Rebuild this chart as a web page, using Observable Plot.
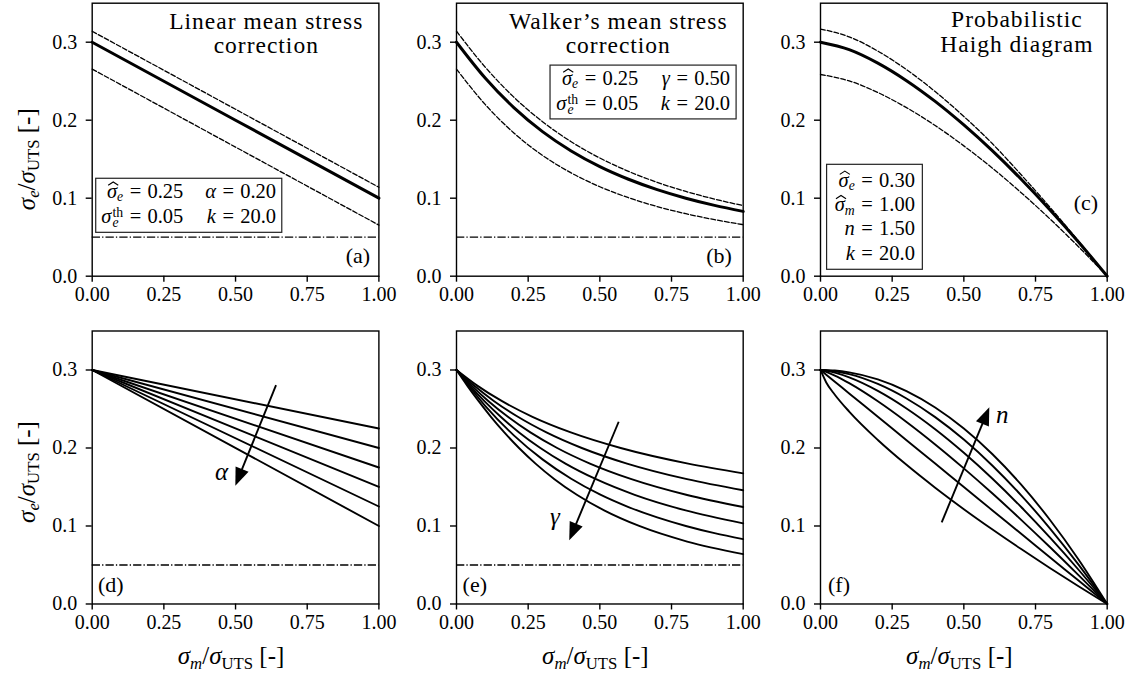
<!DOCTYPE html>
<html><head><meta charset="utf-8">
<script src="https://cdn.jsdelivr.net/npm/d3@7"></script>
<script src="https://cdn.jsdelivr.net/npm/@observablehq/plot@0.6"></script>
<style>
html,body{margin:0;padding:0;background:#fff;}
#fig{position:relative;width:1133px;height:680px;overflow:hidden;background:#fff;}
#fig svg{position:absolute;font-family:"Liberation Serif","DejaVu Serif",serif !important;}
#fig [aria-label="x-axis tick"], #fig [aria-label="y-axis tick"]{stroke-width:1.4px;}
#fig [aria-label="x-axis tick label"], #fig [aria-label="y-axis tick label"]{font-size:20px;font-family:"Liberation Serif","DejaVu Serif",serif;}
</style></head><body><div id="fig"></div>
<script>
// ---------------- data ----------------
const mTicks = [0, 0.25, 0.5, 0.75, 1];
const yTicks = [0, 0.1, 0.2, 0.3];
const threshold = 0.05;
const mGrid = [0, 0.1, 0.2, 0.3, 0.4, 0.5, 0.6, 0.7, 0.8, 0.9, 1];

// (a) linear mean stress correction
const aM = [0, 0.5, 1];
const aMean = [0.300, 0.200, 0.100];
const aUpper = [0.314, 0.214, 0.114];
const aLower = [0.2655, 0.1655, 0.0655];

// (b) Walker's mean stress correction (on mGrid)
const bMean = [0.300, 0.2541, 0.2162, 0.1854, 0.1606, 0.1405, 0.1243, 0.1110, 0.1000, 0.0908, 0.0831];
const bUpper = [0.3141, 0.2681, 0.2296, 0.1981, 0.1724, 0.1515, 0.1344, 0.1203, 0.1086, 0.0988, 0.0905];
const bLower = [0.2655, 0.2202, 0.1837, 0.1549, 0.1324, 0.1147, 0.1006, 0.0893, 0.0801, 0.0725, 0.0661];

// (c) probabilistic Haigh diagram (on mGrid)
const cMean = [0.300, 0.2905, 0.2732, 0.2507, 0.2241, 0.1939, 0.1606, 0.1243, 0.0853, 0.0439, 0];
const cUpper = [0.3169, 0.3069, 0.2886, 0.2648, 0.2367, 0.2048, 0.1697, 0.1300, 0.0885, 0.0450, 0];
const cLower = [0.2586, 0.2504, 0.2355, 0.2161, 0.1932, 0.1671, 0.1384, 0.1071, 0.0735, 0.0378, 0];

// (d) family of linear lines (alpha varies)
const dM = [0, 1];
const dStart = 0.3;
const dEnd = [0.225, 0.200, 0.175, 0.150, 0.125, 0.100];

// (e) family of Walker curves (gamma varies)
const eM = [
  [0, 0.0724, 0.1589, 0.2649, 0.3987, 0.5727, 0.8080, 1.0],
  [0, 0.0610, 0.1313, 0.2141, 0.3137, 0.4370, 0.5947, 0.8041, 1.0],
  [0, 0.0527, 0.1118, 0.1793, 0.2577, 0.3512, 0.4655, 0.6103, 0.8011, 1.0],
  [0, 0.0464, 0.0973, 0.1541, 0.2183, 0.2925, 0.3801, 0.4868, 0.6215, 0.7994, 1.0],
  [0, 0.1, 0.2, 0.3, 0.4, 0.5, 0.6, 0.7, 0.8, 0.9, 1.0],
  [0, 0.0374, 0.0773, 0.1201, 0.1667, 0.2180, 0.2757, 0.3417, 0.4197, 0.5149, 0.6371, 0.8047, 1.0]
];
const eA = [
  [0.30, 0.28, 0.26, 0.24, 0.22, 0.20, 0.18, 0.1675],
  [0.30, 0.28, 0.26, 0.24, 0.22, 0.20, 0.18, 0.16, 0.1458],
  [0.30, 0.28, 0.26, 0.24, 0.22, 0.20, 0.18, 0.16, 0.14, 0.1243],
  [0.30, 0.28, 0.26, 0.24, 0.22, 0.20, 0.18, 0.16, 0.14, 0.12, 0.1034],
  [0.300, 0.2541, 0.2162, 0.1854, 0.1606, 0.1405, 0.1243, 0.1110, 0.1000, 0.0908, 0.0831],
  [0.30, 0.28, 0.26, 0.24, 0.22, 0.20, 0.18, 0.16, 0.14, 0.12, 0.10, 0.08, 0.0639]
];

// (f) family of Haigh curves (n varies)
const fM = [0, 0.02, 0.05, 0.1, 0.2, 0.3, 0.4, 0.5, 0.6, 0.7, 0.8, 0.9, 1];
const fA = [
  [0.3, 0.2840, 0.2683, 0.2467, 0.2103, 0.1784, 0.1491, 0.1216, 0.0955, 0.0704, 0.0462, 0.0228, 0],
  [0.3, 0.2940, 0.2850, 0.2700, 0.2400, 0.2100, 0.1800, 0.1500, 0.1200, 0.0900, 0.0600, 0.0300, 0],
  [0.3, 0.2977, 0.2929, 0.2831, 0.2599, 0.2334, 0.2046, 0.1739, 0.1416, 0.1079, 0.0730, 0.0370, 0],
  [0.3, 0.2992, 0.2966, 0.2905, 0.2732, 0.2507, 0.2241, 0.1939, 0.1606, 0.1243, 0.0853, 0.0439, 0],
  [0.3, 0.2997, 0.2984, 0.2947, 0.2821, 0.2635, 0.2396, 0.2108, 0.1773, 0.1393, 0.0970, 0.0505, 0],
  [0.3, 0.2999, 0.2993, 0.2970, 0.2880, 0.2730, 0.2520, 0.2250, 0.1920, 0.1530, 0.1080, 0.0570, 0]
];

// annotation texts
const titles = [["Linear mean stress", "correction"], ["Walker\u2019s mean stress", "correction"], ["Probabilistic", "Haigh diagram"]];
const panelTags = ["(a)", "(b)", "(c)", "(d)", "(e)", "(f)"];
const legendA = ["0.25", "0.20", "0.05", "20.0"];
const legendB = ["0.25", "0.50", "0.05", "20.0"];
const legendC = ["0.30", "1.00", "1.50", "20.0"];

// ---------------- helpers ----------------
const FONT = "Liberation Serif";
const FONTS = '"Liberation Serif", "DejaVu Serif", serif';
const DASH = "4.8,2.1";
const DASHDOT = "8.3,2.1,1.3,2.1";
const LEG = 20.5;
const rows = (xs, ys) => xs.map((x, i) => ({x, y: ys[i]}));
const ctx = document.createElement("canvas").getContext("2d");
function measure(t, size, it) {
  ctx.font = `${it ? "italic " : ""}${size}px "${FONT}"`;
  return ctx.measureText(t).width;
}
function txt(g, x, y, t, size, opts = {}) {
  const lead = t.match(/^ */)[0];
  const dx = lead ? measure(lead, size, opts.it) : 0;
  return g.append("text").attr("x", x + dx).attr("y", y)
    .attr("font-family", FONTS).attr("font-size", size)
    .attr("font-style", opts.it ? "italic" : "normal")
    .attr("text-anchor", opts.anchor || "start")
    .attr("fill", "black").attr("stroke", "none")
    .text(t.slice(lead.length));
}
// math-like text: parts laid out left to right (sub/superscripts, hats, spacing)
function rich(g, x, y, parts, size, anchor = "start", rotate = 0) {
  const root = g.append("g").attr("transform", `translate(${x},${y})${rotate ? ` rotate(${rotate})` : ""}`);
  let cx = 0, held = 0;
  const items = [];
  for (const p of parts) {
    const small = p.sub || p.sup;
    const sz = small ? size * 0.67 : size;
    const w = measure(p.t, sz, p.it);
    cx += (p.pre || 0) * size;
    items.push({...p, sz, w, x: cx, dy: p.sub ? size * 0.17 : p.sup ? -size * 0.3 : 0});
    if (p.hold) held = w; else { cx += Math.max(w, held) + (p.post || 0) * size; held = 0; }
  }
  const off = anchor === "middle" ? -cx / 2 : anchor === "end" ? -cx : 0;
  for (let i = 0; i < items.length; i++) {
    const it = items[i];
    if (it.hold && items[i + 1]) {
      const nx = items[i + 1];
      const t = root.append("text").attr("font-family", FONTS).attr("fill", "black").attr("text-anchor", "start");
      t.append("tspan").attr("x", it.x + off).attr("y", it.dy).attr("font-size", it.sz).attr("fill", "black")
        .attr("font-style", it.it ? "italic" : "normal").text(it.t);
      t.append("tspan").attr("x", nx.x + off).attr("y", nx.dy).attr("font-size", nx.sz).attr("fill", "black")
        .attr("font-style", nx.it ? "italic" : "normal").text(nx.t);
      i++;
      continue;
    }
    txt(root, it.x + off, it.dy, it.t, it.sz, {it: it.it});
    if (it.hat) {
      const x0 = it.x + off + it.w * 0.12, x1 = it.x + off + it.w * 1.12, xm = (x0 + x1) / 2;
      root.append("path")
        .attr("d", `M${x0},${-size * 0.6}L${xm},${-size * 0.76}L${x1},${-size * 0.6}`)
        .attr("fill", "none").attr("stroke", "black").attr("stroke-width", 1.1);
    }
  }
  return root;
}
const sig = (o = {}) => ({t: "\u03C3", it: true, ...o});
const eq = (v) => [{t: "=", pre: 0.32, post: 0.3}, {t: v}];
const yLabelParts = [sig(), {t: "e", it: true, sub: true}, {t: "/"}, sig(), {t: "UTS", sub: true}, {t: " [-]"}];
const xLabelParts = [sig(), {t: "m", it: true, sub: true}, {t: "/"}, sig(), {t: "UTS", sub: true}, {t: " [-]"}];
const hatSigE = [sig({hat: true}), {t: "e", it: true, sub: true}];
const hatSigM = [sig({hat: true}), {t: "m", it: true, sub: true}];
const sigTh = [sig(), {t: "e", it: true, sub: true, hold: true, pre: 0.06}, {t: "th", sup: true}];

function annot(draw) {
  return (index, scales, values, dims) => {
    const g = d3.create("svg:g");
    draw(g, scales.x, scales.y, dims);
    return g.node();
  };
}
function arrow(g, x, y, from, to) {
  const X1 = x(from[0]), Y1 = y(from[1]), X2 = x(to[0]), Y2 = y(to[1]);
  const dx = X2 - X1, dy = Y2 - Y1, L = Math.hypot(dx, dy), ux = dx / L, uy = dy / L;
  const hl = 18, hw = 7;
  const bx = X2 - ux * hl, by = Y2 - uy * hl;
  g.append("line").attr("x1", X1).attr("y1", Y1).attr("x2", bx + ux * 2).attr("y2", by + uy * 2)
    .attr("stroke", "black").attr("stroke-width", 1.9);
  g.append("path").attr("d", `M${X2},${Y2}L${bx - uy * hw},${by + ux * hw}L${bx + uy * hw},${by - ux * hw}Z`)
    .attr("fill", "black").attr("stroke", "none");
}
function box(g, x0, y0, x1, y1) {
  g.append("rect").attr("x", Math.min(x0, x1)).attr("y", Math.min(y0, y1))
    .attr("width", Math.abs(x1 - x0)).attr("height", Math.abs(y1 - y0))
    .attr("fill", "white").attr("stroke", "#222").attr("stroke-width", 1.2);
}
function title(g, x, y0, y1, lines) {
  txt(g, x, y0, lines[0], 23.5, {anchor: "middle"}).style("letter-spacing", "1px");
  txt(g, x, y1, lines[1], 23.5, {anchor: "middle"}).style("letter-spacing", "1px");
}

// ---------------- layout ----------------
const fig = document.getElementById("fig");
const colLeft = [91.7, 456, 820], colML = [91.7, 76, 60], frameW = 286.7, mR = 26;
const rowSvgTop = [0, 320], rowMT = [2.7, 10.5], frameH = 273, rowMB = [44, 76.5];

function panel(col, row, marks) {
  const ml = colML[col], mt = rowMT[row], mb = rowMB[row];
  const svg = Plot.plot({
    width: ml + frameW + mR, height: mt + frameH + mb,
    marginLeft: ml, marginRight: mR, marginTop: mt, marginBottom: mb,
    style: {fontFamily: FONTS, fontSize: "20px", color: "black", background: "transparent", overflow: "visible"},
    x: {domain: [0, 1], ticks: mTicks, tickFormat: d3.format(".2f"), tickSize: 6, tickPadding: 5, label: null},
    y: {domain: [0, 0.35], ticks: yTicks, tickFormat: d3.format(".1f"), tickSize: 6, tickPadding: 9, label: null},
    marks: [...marks, Plot.frame({stroke: "black", strokeWidth: 1.4})]
  });
  svg.style.left = (colLeft[col] - ml) + "px";
  svg.style.top = rowSvgTop[row] + "px";
  fig.append(svg);
}
const thin = {x: "x", y: "y", stroke: "black", strokeWidth: 1.3, strokeDasharray: DASH};
const thick = {x: "x", y: "y", stroke: "black", strokeWidth: 3};
const fam = {x: "x", y: "y", stroke: "black", strokeWidth: 1.9};
const rule = Plot.ruleY([threshold], {stroke: "black", strokeWidth: 1.3, strokeDasharray: DASHDOT});
const yLabel = (offset) => annot((g, x, y) => rich(g, x(0) - 56.7, y(0.175) + offset, yLabelParts, 25, "middle", -90));
const xLabel = annot((g, x, y) => rich(g, x(0.5) - 4, y(0) + 61, xLabelParts, 25, "middle"));

// (a)
panel(0, 0, [
  rule,
  Plot.line(rows(aM, aUpper), thin),
  Plot.line(rows(aM, aLower), thin),
  Plot.line(rows(aM, aMean), thick),
  annot((g, x, y) => {
    title(g, x(0.609), y(0.316), y(0.285), titles[0]);
    box(g, x(0.014), y(0.1249), x(0.663), y(0.0556));
    rich(g, x(0.3195), y(0.1002), [...hatSigE, ...eq(legendA[0])], LEG, "end");
    rich(g, x(0.643), y(0.1002), [{t: "\u03B1", it: true}, ...eq(legendA[1])], LEG, "end");
    rich(g, x(0.3195), y(0.0675), [...sigTh, ...eq(legendA[2])], LEG, "end");
    rich(g, x(0.643), y(0.0675), [{t: "k", it: true}, ...eq(legendA[3])], LEG, "end");
    txt(g, x(0.971), y(0.016), panelTags[0], 22, {anchor: "end"});
  }),
  yLabel(20)
]);

// (b)
panel(1, 0, [
  rule,
  Plot.line(rows(mGrid, bUpper), {...thin, curve: "monotone-x"}),
  Plot.line(rows(mGrid, bLower), {...thin, curve: "monotone-x"}),
  Plot.line(rows(mGrid, bMean), {...thick, curve: "monotone-x"}),
  annot((g, x, y) => {
    title(g, x(0.566), y(0.316), y(0.285), titles[1]);
    box(g, x(0.328), y(0.270), x(0.977), y(0.201));
    rich(g, x(0.636), y(0.2451), [...hatSigE, ...eq(legendB[0])], LEG, "end");
    rich(g, x(0.956), y(0.2451), [{t: "\u03B3", it: true}, ...eq(legendB[1])], LEG, "end");
    rich(g, x(0.636), y(0.2119), [...sigTh, ...eq(legendB[2])], LEG, "end");
    rich(g, x(0.956), y(0.2119), [{t: "k", it: true}, ...eq(legendB[3])], LEG, "end");
    txt(g, x(0.962), y(0.016), panelTags[1], 22, {anchor: "end"});
  })
]);

// (c)
panel(2, 0, [
  Plot.line(rows(mGrid, cUpper), {...thin, curve: "monotone-x"}),
  Plot.line(rows(mGrid, cLower), {...thin, curve: "monotone-x"}),
  Plot.line(rows(mGrid, cMean), {...thick, curve: "monotone-x"}),
  annot((g, x, y) => {
    title(g, x(0.687), y(0.319), y(0.287), titles[2]);
    box(g, x(0.023), y(0.1428), x(0.357), y(0.0082));
    rich(g, x(0.331), y(0.1141), [...hatSigE, ...eq(legendC[0])], LEG, "end");
    rich(g, x(0.331), y(0.0829), [...hatSigM, ...eq(legendC[1])], LEG, "end");
    rich(g, x(0.331), y(0.0517), [{t: "n", it: true}, ...eq(legendC[2])], LEG, "end");
    rich(g, x(0.331), y(0.0204), [{t: "k", it: true}, ...eq(legendC[3])], LEG, "end");
    txt(g, x(0.970), y(0.0842), panelTags[2], 22, {anchor: "end"});
  })
]);

// (d)
panel(0, 1, [
  rule,
  ...dEnd.map(e => Plot.line(rows(dM, [dStart, e]), fam)),
  annot((g, x, y) => {
    arrow(g, x, y, [0.643, 0.280], [0.501, 0.151]);
    rich(g, x(0.453), y(0.158), [{t: "\u03B1", it: true}], 25, "middle");
    txt(g, x(0.022), y(0.0153), panelTags[3], 22);
  }),
  yLabel(5),
  xLabel
]);

// (e)
panel(1, 1, [
  rule,
  ...eM.map((ms, i) => Plot.line(rows(ms, eA[i]), {...fam, curve: "monotone-x"})),
  annot((g, x, y) => {
    arrow(g, x, y, [0.5675, 0.233], [0.395, 0.081]);
    rich(g, x(0.345), y(0.100), [{t: "\u03B3", it: true}], 25, "middle");
    txt(g, x(0.023), y(0.0153), panelTags[4], 22);
  }),
  xLabel
]);

// (f)
panel(2, 1, [
  ...fA.map(a => Plot.line(rows(fM, a), {...fam, curve: "monotone-x"})),
  annot((g, x, y) => {
    arrow(g, x, y, [0.4245, 0.104], [0.5906, 0.2517]);
    rich(g, x(0.636), y(0.232), [{t: "n", it: true}], 25, "middle");
    txt(g, x(0.028), y(0.0153), panelTags[5], 22);
  }),
  xLabel
]);
</script></body></html>
